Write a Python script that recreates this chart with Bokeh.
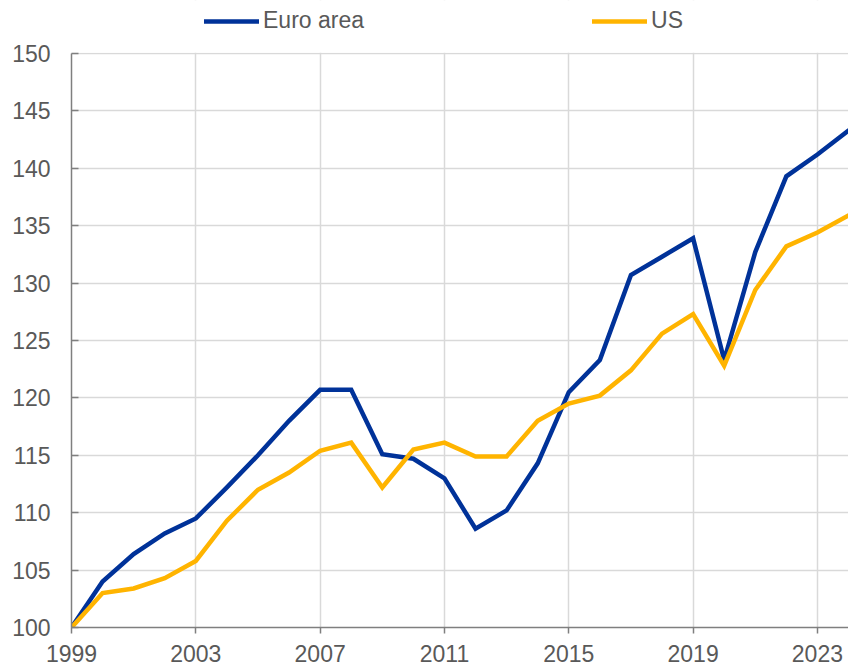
from bokeh.plotting import figure
from bokeh.models import Range1d, FixedTicker, Legend, LegendItem, BoxAnnotation
from bokeh.embed import file_html
from bokeh.resources import INLINE

years = list(range(1999, 2025))
euro_area = [100.0, 104.0, 106.4, 108.2, 109.5, 112.2, 115.0, 118.0, 120.7, 120.7,
             115.1, 114.7, 113.0, 108.6, 110.2, 114.3, 120.5, 123.3, 130.7, 132.3,
             133.9, 123.3, 132.7, 139.3, 141.2, 143.3]
us = [100.0, 103.0, 103.4, 104.3, 105.8, 109.3, 112.0, 113.5, 115.4, 116.1,
      112.2, 115.5, 116.1, 114.9, 114.9, 118.0, 119.5, 120.2, 122.4, 125.6,
      127.3, 122.8, 129.4, 133.2, 134.4, 135.9]
x_ticks = [1999, 2003, 2007, 2011, 2015, 2019, 2023]
y_ticks = [100, 105, 110, 115, 120, 125, 130, 135, 140, 145, 150]

FONT = "Liberation Sans"
TXT = "#595959"

# frame extends above the 150 line to host the legend; 574 px span 100..150
Y_TOP = 100 + 627 * 50 / 574.0

p = figure(frame_width=777, frame_height=627, output_backend="svg", toolbar_location=None,
           x_range=Range1d(1999, 2024), y_range=Range1d(100, Y_TOP),
           min_border_left=71, min_border_right=0, min_border_top=0, min_border_bottom=39)
p.outline_line_color = None
p.background_fill_color = "white"
p.border_fill_color = "white"

for ax in (p.xaxis[0], p.yaxis[0]):
    ax.axis_line_color = "#7f7f7f"
    ax.axis_line_width = 1.5
    ax.major_tick_line_color = "#7f7f7f"
    ax.major_tick_line_width = 1.5
    ax.minor_tick_line_color = None
    ax.major_label_text_font = FONT
    ax.major_label_text_font_size = "23px"
    ax.major_label_text_color = TXT

p.xaxis.ticker = FixedTicker(ticks=x_ticks)
p.yaxis.ticker = FixedTicker(ticks=y_ticks)
p.yaxis.bounds = (100, 150)
p.xaxis.major_tick_in = 0
p.xaxis.major_tick_out = 6
p.xaxis.major_label_standoff = 11
p.yaxis.major_tick_in = 7
p.yaxis.major_tick_out = 0
p.yaxis.major_label_standoff = 21

p.xgrid.ticker = FixedTicker(ticks=x_ticks)
p.ygrid.ticker = FixedTicker(ticks=y_ticks)
for g in (p.xgrid[0], p.ygrid[0]):
    g.grid_line_color = "#d9d9d9"
    g.grid_line_width = 1.5

r1 = p.line(years, euro_area, line_color="#003299", line_width=4.5,
            line_join="miter", line_cap="round")
r2 = p.line(years, us, line_color="#ffb400", line_width=4.5,
            line_join="miter", line_cap="round")

cover = BoxAnnotation(bottom=150.07, fill_color="white", fill_alpha=1.0,
                      line_color=None, level="underlay")
p.add_layout(cover)

legend = Legend(items=[LegendItem(label="Euro area", renderers=[r1]),
                       LegendItem(label="US", renderers=[r2])],
                orientation="horizontal", location=(133, 593),
                label_text_font=FONT, label_text_font_size="23px", label_text_color=TXT,
                glyph_width=55, glyph_height=20, label_standoff=4, spacing=228,
                padding=0, margin=0, border_line_color=None, background_fill_alpha=0)
p.add_layout(legend, "center")

open("out.html", "w").write(file_html(p, INLINE))
